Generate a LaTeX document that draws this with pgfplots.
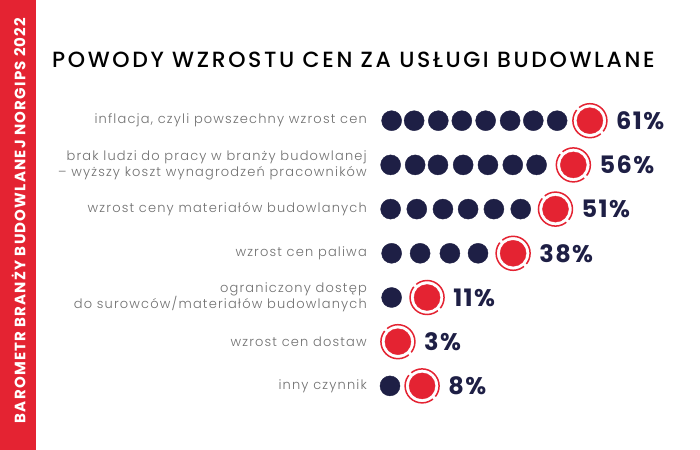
\documentclass[border=0pt]{standalone}
\usepackage{pgfplots}
\pgfplotsset{compat=1.18}
\usepackage{fontspec}
\setmainfont{Poppins}
\IfFontExistsTF{Poppins Light}{\newfontfamily\lightfont[LetterSpace=9]{Poppins Light}}{\newfontfamily\lightfont[LetterSpace=9]{Poppins}}
\IfFontExistsTF{Poppins Medium}{\newfontfamily\medfont[LetterSpace=12]{Poppins Medium}}{\newfontfamily\medfont[LetterSpace=12]{Poppins}}
\newfontfamily\sidefont[LetterSpace=8]{Poppins}
\newfontfamily\pctfont[LetterSpace=6]{Poppins}

\definecolor{brandred}{HTML}{E42332}
\definecolor{navy}{HTML}{1E1F45}
\definecolor{labelgray}{HTML}{707070}

\begin{document}
\begin{tikzpicture}
\path[use as bounding box] (0,0) rectangle (700bp,450bp);
\fill[white] (0,0) rectangle (700bp,450bp);
\fill[brandred] (0,0) rectangle (36bp,450bp);
\node[rotate=90, text=white, inner sep=0pt] at (18.5bp,229.5bp)
  {\sidefont\bfseries\fontsize{15bp}{15bp}\selectfont BAROMETR BRANŻY BUDOWLANEJ NORGIPS 2022};
\node[anchor=base west, inner sep=0pt, text=black] at (52bp,382bp)
  {\medfont\fontsize{22bp}{26bp}\selectfont POWODY WZROSTU CEN ZA USŁUGI BUDOWLANE};

\begin{axis}[
    at={(388bp,42bp)}, anchor=south west,
    scale only axis, width=297.9bp, height=309.4bp,
    xmin=0, xmax=90, ymin=0.5, ymax=7.5,
    clip=false,
    axis line style={draw=none},
    major tick length=0pt,
    xtick=\empty,
    ytick={1,...,7},
    yticklabels={
        inny czynnik,
        wzrost cen dostaw,
        {ograniczony dostęp\\do surowców/materiałów budowlanych},
        wzrost cen paliwa,
        wzrost ceny materiałów budowlanych,
        {brak ludzi do pracy w branży budowlanej\\– wyższy koszt wynagrodzeń pracowników},
        {inflacja, czyli powszechny wzrost cen}},
    yticklabel style={align=right, text=labelgray, inner sep=0pt, xshift=-21bp,
        font=\lightfont\fontsize{13bp}{16bp}\selectfont},
]
% navy dots
\addplot[only marks, mark=*, mark size=10bp, color=navy] coordinates {
    (1.1,7) (7.9,7) (15.2,7) (22.3,7) (29.5,7) (36.9,7) (43.9,7) (51.1,7)
    (0.8,6) (8.2,6) (15.1,6) (22.7,6) (30.2,6) (37.7,6) (44.9,6)
    (0.8,5) (8.7,5) (16.6,5) (24.2,5) (32.0,5) (40.1,5)
    (1.1,4) (9.7,4) (18.7,4) (27.2,4)
    (1.1,3)
    (0.6,1)
};
% red rings, broken at upper left and lower right
\addplot[only marks, mark=o, mark size=17bp, color=brandred,
    mark options={line width=1.5bp, dash pattern=on 49.9bp off 3.5bp, dash phase=11.6bp}]
    coordinates {(61,7) (56,6) (50.6,5) (37.8,4) (11.8,3) (3.0,2) (10.3,1)};
% red dots with values
\addplot[only marks, mark=*, mark size=13bp, color=brandred,
    point meta=explicit symbolic,
    nodes near coords,
    nodes near coords style={anchor=west, inner sep=0pt, xshift=26bp, text=navy,
        font=\pctfont\bfseries\fontsize{24bp}{24bp}\selectfont}]
    coordinates {(61,7) [61\%] (56,6) [56\%] (50.6,5) [51\%] (37.8,4) [38\%]
                 (11.8,3) [11\%] (3.0,2) [3\%] (10.3,1) [8\%]};
\end{axis}
\end{tikzpicture}
\end{document}
